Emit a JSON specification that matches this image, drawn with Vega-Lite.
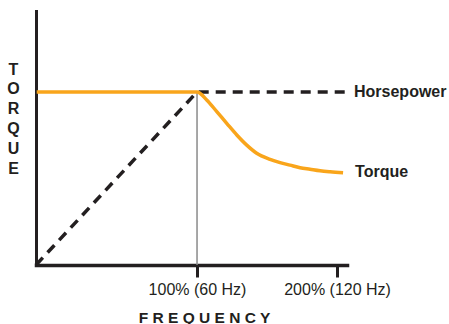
{
  "$schema": "https://vega.github.io/schema/vega-lite/v6.json",
  "width": 311,
  "height": 254,
  "autosize": "none",
  "padding": {"left": 36, "top": 11, "right": 102, "bottom": 59},
  "config": {"view": {"stroke": null}, "font": "Liberation Sans"},
  "encoding": {
    "x": {
      "field": "x", "type": "quantitative",
      "scale": {"domain": [-15, 207.1], "nice": false, "zero": false},
      "axis": {
        "values": [100, 200],
        "labelExpr": "datum.value == 100 ? '100% (60 Hz)' : '200% (120 Hz)'",
        "grid": false, "domainColor": "#231f20", "domainWidth": 3.5, "domainCap": "square",
        "tickColor": "#231f20", "tickWidth": 3, "tickSize": 12,
        "labelFontSize": 16, "labelColor": "#231f20", "labelPadding": 4, "labelFlush": false, "labelOverlap": false,
        "title": "F R E Q U E N C Y", "titleFontSize": 15.5, "titleFontWeight": "bold", "titleColor": "#231f20",
        "titleX": 168, "titleY": 52, "titleAlign": "center", "titleBaseline": "middle"
      }
    },
    "y": {
      "field": "y", "type": "quantitative",
      "scale": {"domain": [0, 100], "nice": false},
      "axis": {
        "ticks": false, "labels": false, "grid": false,
        "domainColor": "#231f20", "domainWidth": 3, "domainCap": "square",
        "title": ["T", "O", "R", "Q", "U", "E"], "titleAngle": 0, "titleFontSize": 16, "titleFontWeight": "bold",
        "titleLineHeight": 19.8, "titleX": -23, "titleY": 50, "titleAlign": "center", "titleBaseline": "top",
        "titleColor": "#231f20"
      }
    }
  },
  "layer": [
    {
      "data": {"values": [{"x": 100, "y": 0, "y2": 68.1}]},
      "mark": {"type": "rule", "color": "#8a8a8a", "strokeWidth": 1.5},
      "encoding": {"y2": {"field": "y2"}}
    },
    {
      "data": {"values": [
        {"x": -15, "y": 0},
        {"x": 100, "y": 68.1},
        {"x": 205.7, "y": 68.1}
      ]},
      "mark": {"type": "line", "color": "#231f20", "strokeWidth": 3.5, "strokeDash": [10, 7]},
      "encoding": {}
    },
    {
      "data": {"values": [
        {"x": -14.5, "y": 68.1},
        {"x": 100, "y": 68.1},
        {"x": 106.9, "y": 65.0},
        {"x": 114.1, "y": 60.4},
        {"x": 121.2, "y": 55.8},
        {"x": 128.4, "y": 51.2},
        {"x": 135.5, "y": 47.2},
        {"x": 142.6, "y": 44.0},
        {"x": 152.1, "y": 41.6},
        {"x": 159.3, "y": 40.3},
        {"x": 166.4, "y": 39.3},
        {"x": 173.6, "y": 38.3},
        {"x": 180.7, "y": 37.7},
        {"x": 187.9, "y": 37.1},
        {"x": 195.0, "y": 36.7},
        {"x": 204.3, "y": 36.3}
      ]},
      "mark": {"type": "line", "color": "#f9a51b", "strokeWidth": 3.5, "interpolate": "monotone"},
      "encoding": {}
    },
    {
      "data": {"values": [
        {"label": "Horsepower", "x": 212.1, "y": 68.1},
        {"label": "Torque", "x": 212.9, "y": 36.6}
      ]},
      "mark": {"type": "text", "align": "left", "baseline": "middle", "fontSize": 16, "fontWeight": "bold", "color": "#231f20"},
      "encoding": {"text": {"field": "label"}}
    }
  ]
}
